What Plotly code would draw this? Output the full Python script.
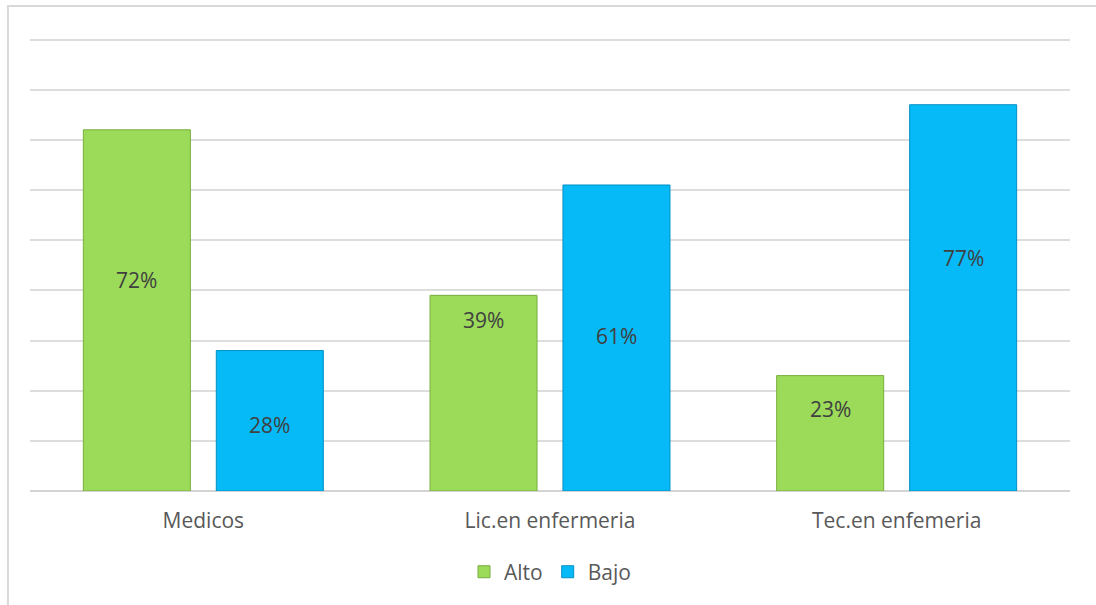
import plotly.graph_objects as go

categories = ["Medicos", "Lic.en enfermeria", "Tec.en enfemeria"]
alto = [72, 39, 23]
bajo = [28, 61, 77]
# vertical position (in % units) where each data label sits inside its bar
alto_label_pos = [42.0, 34.0, 16.3]
bajo_label_pos = [13.1, 30.9, 46.4]

GREEN = "#9CDB5A"
BLUE = "#05BAF7"
FONT = "Open Sans"
FS = 21

fig = go.Figure()
fig.add_trace(go.Bar(
    x=categories, y=alto, name="Alto",
    marker=dict(color=GREEN, line=dict(color="#78AE3C", width=1)),
))
fig.add_trace(go.Bar(
    x=categories, y=bajo, name="Bajo",
    marker=dict(color=BLUE, line=dict(color="#0390C4", width=1)),
))

annotations = []
for cat, v, p in zip(categories, alto, alto_label_pos):
    annotations.append(dict(x=cat, y=p, xref="x", yref="y", text=f"{v}%",
                            showarrow=False, xshift=-66.5,
                            font=dict(family=FONT, size=FS, color="#404040")))
for cat, v, p in zip(categories, bajo, bajo_label_pos):
    annotations.append(dict(x=cat, y=p, xref="x", yref="y", text=f"{v}%",
                            showarrow=False, xshift=66.5,
                            font=dict(family=FONT, size=FS, color="#404040")))

fig.update_layout(
    width=1096, height=605,
    margin=dict(l=30, r=26, t=38, b=114),
    paper_bgcolor="white", plot_bgcolor="white",
    barmode="group", bargap=0.233, bargroupgap=0.195,
    font=dict(family=FONT, size=FS, color="#595959"),
    showlegend=True,
    legend=dict(orientation="h", x=0.5, xanchor="center", y=-0.179, yanchor="middle",
                font=dict(family=FONT, size=FS, color="#595959"),
                itemwidth=30, traceorder="normal"),
    annotations=annotations,
    shapes=[dict(type="rect", xref="paper", yref="paper",
                 x0=-0.0212, x1=1.2, y0=-0.5, y1=1.0706,
                 line=dict(color="#D9D9D9", width=2), fillcolor="rgba(0,0,0,0)",
                 layer="below")],
)
fig.update_xaxes(showgrid=False, showline=False, ticks="",
                 tickfont=dict(family=FONT, size=FS, color="#595959"),
                 ticklabelstandoff=15)
fig.update_yaxes(range=[0, 90.3], dtick=10, showticklabels=False,
                 showgrid=True, gridcolor="#DDDDDD", gridwidth=2,
                 zeroline=True, zerolinecolor="#D4D4D4", zerolinewidth=2,
                 showline=False)

fig.write_html("out.html")
